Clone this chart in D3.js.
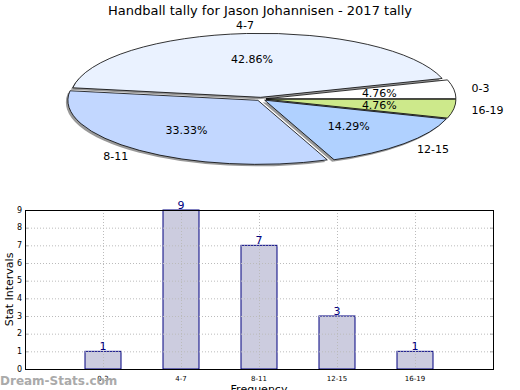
<!DOCTYPE html>
<html>
<head>
<meta charset="utf-8">
<script src="https://cdn.jsdelivr.net/npm/d3@7"></script>
<style>
  body { margin: 0; background: #fff; }
  svg { font-family: "DejaVu Sans", sans-serif; display: block; }
</style>
</head>
<body>
<div class="grafico"></div>
<script>
// data
const categories = ["0-3", "4-7", "8-11", "12-15", "16-19"];
const counts = [1, 9, 7, 3, 1];
const sliceColors = ["#ffffff", "#eaf2ff", "#c2d7ff", "#b0d1ff", "#cde98b"];
const yTicks = [0, 1, 2, 3, 4, 5, 6, 7, 8, 9];

const width = 520, height = 390;
const total = d3.sum(counts);

let svg = d3.select(".grafico")
  .append("svg")
  .attr("width", width)
  .attr("height", height);

// title
svg.append("text")
  .attr("x", 260).attr("y", 15)
  .attr("text-anchor", "middle")
  .attr("font-size", 13)
  .text("Handball tally for Jason Johannisen - 2017 tally");

// ---- pie (flattened, exploded) ----
const cx = 261, cy = 99, rx = 190, ry = 64, k = ry / rx, explode = 5;

const pie = d3.pie()
  .sort(null)
  .startAngle(Math.PI / 2)
  .endAngle(Math.PI / 2 - 2 * Math.PI);

const arcs = pie(counts);
const arc = d3.arc().innerRadius(0).outerRadius(rx);

// d3 angle -> screen direction
const dirX = a => Math.sin(a), dirY = a => -Math.cos(a);

const pieG = svg.append("g");

// shadow
pieG.selectAll(".shadow")
  .data(arcs)
  .enter().append("path")
  .attr("class", "shadow")
  .attr("d", arc)
  .attr("transform", d => {
    const m = (d.startAngle + d.endAngle) / 2;
    return "translate(" + (cx - 2 + explode * dirX(m)) + "," + (cy + 2 + explode * dirY(m) * k) + ") scale(1," + k + ")";
  })
  .attr("fill", "#999");

pieG.selectAll(".slice")
  .data(arcs)
  .enter().append("path")
  .attr("class", "slice")
  .attr("d", arc)
  .attr("transform", d => {
    const m = (d.startAngle + d.endAngle) / 2;
    return "translate(" + (cx + explode * dirX(m)) + "," + (cy + explode * dirY(m) * k) + ") scale(1," + k + ")";
  })
  .attr("fill", (d, i) => sliceColors[i])
  .attr("stroke", "#000")
  .attr("stroke-width", 0.8)
  .attr("vector-effect", "non-scaling-stroke");

// percent labels
pieG.selectAll(".pct")
  .data(arcs)
  .enter().append("text")
  .attr("class", "pct")
  .attr("x", d => { const m = (d.startAngle + d.endAngle) / 2; return cx + rx * 0.63 * dirX(m); })
  .attr("y", d => { const m = (d.startAngle + d.endAngle) / 2; return cy + ry * 0.63 * dirY(m); })
  .attr("dy", "0.35em")
  .attr("text-anchor", "middle")
  .attr("font-size", 11)
  .text(d => (d.value / total * 100).toFixed(2) + "%");

// category labels
pieG.selectAll(".cat")
  .data(arcs)
  .enter().append("text")
  .attr("class", "cat")
  .attr("x", d => { const m = (d.startAngle + d.endAngle) / 2; return cx + rx * 1.12 * dirX(m); })
  .attr("y", d => { const m = (d.startAngle + d.endAngle) / 2; return cy + ry * 1.15 * dirY(m); })
  .attr("dy", "0.35em")
  .attr("text-anchor", d => {
    const c = dirX((d.startAngle + d.endAngle) / 2);
    return c > 0.3 ? "start" : (c < -0.3 ? "end" : "middle");
  })
  .attr("font-size", 11)
  .text((d, i) => categories[i]);

// ---- bar chart ----
const plot = { left: 25, right: 493, top: 210, bottom: 369 };

const x = d3.scalePoint()
  .domain(categories)
  .range([plot.left, plot.right])
  .padding(1);

const y = d3.scaleLinear()
  .domain([0, 9])
  .range([plot.bottom, plot.top]);

const barW = 36;

svg.selectAll(".bar")
  .data(counts)
  .enter().append("rect")
  .attr("class", "bar")
  .attr("x", (d, i) => x(categories[i]) - barW / 2)
  .attr("y", d => y(d))
  .attr("width", barW)
  .attr("height", d => y(0) - y(d))
  .attr("fill", "#ccccdf")
  .attr("stroke", "#000080")
  .attr("stroke-width", 1);

// grid (drawn over bars)
const grid = svg.append("g")
  .attr("stroke", "#bbb")
  .attr("stroke-dasharray", "1,2");
grid.selectAll(".hg")
  .data(yTicks.slice(1, -1))
  .enter().append("line")
  .attr("x1", plot.left).attr("x2", plot.right)
  .attr("y1", d => y(d) + 0.5).attr("y2", d => y(d) + 0.5);
grid.selectAll(".vg")
  .data(categories)
  .enter().append("line")
  .attr("x1", d => x(d) + 0.5).attr("x2", d => x(d) + 0.5)
  .attr("y1", plot.top).attr("y2", plot.bottom);

// small inner ticks at both sides
const ticks = svg.append("g").attr("stroke", "#aaa");
ticks.selectAll(".lt")
  .data(yTicks)
  .enter().append("line")
  .attr("x1", plot.left).attr("x2", plot.left + 3)
  .attr("y1", d => y(d) + 0.5).attr("y2", d => y(d) + 0.5);
ticks.selectAll(".rt")
  .data(yTicks)
  .enter().append("line")
  .attr("x1", plot.right - 3).attr("x2", plot.right)
  .attr("y1", d => y(d) + 0.5).attr("y2", d => y(d) + 0.5);

// frame
svg.append("rect")
  .attr("x", plot.left + 0.5).attr("y", plot.top + 0.5)
  .attr("width", plot.right - plot.left)
  .attr("height", plot.bottom - plot.top)
  .attr("fill", "none")
  .attr("stroke", "#000");

// y tick labels
svg.selectAll(".ylab")
  .data(yTicks)
  .enter().append("text")
  .attr("x", plot.left - 3)
  .attr("y", d => y(d))
  .attr("dy", "0.35em")
  .attr("text-anchor", "end")
  .attr("font-size", 8)
  .text(d => d);

// x tick labels
svg.selectAll(".xlab")
  .data(categories)
  .enter().append("text")
  .attr("x", d => x(d))
  .attr("y", plot.bottom + 12)
  .attr("text-anchor", "middle")
  .attr("font-size", 7)
  .text(d => d);

// value labels
svg.selectAll(".val")
  .data(counts)
  .enter().append("text")
  .attr("x", (d, i) => x(categories[i]))
  .attr("y", d => y(d) - 1)
  .attr("text-anchor", "middle")
  .attr("font-size", 11)
  .attr("fill", "#000080")
  .text(d => d);

// axis titles
svg.append("text")
  .attr("transform", "translate(13," + ((plot.top + plot.bottom) / 2) + ") rotate(-90)")
  .attr("text-anchor", "middle")
  .attr("font-size", 11)
  .text("Stat Intervals");

svg.append("text")
  .attr("x", (plot.left + plot.right) / 2)
  .attr("y", 393)
  .attr("text-anchor", "middle")
  .attr("font-size", 11)
  .text("Frequency");

// watermark
svg.append("text")
  .attr("x", 0)
  .attr("y", 385)
  .attr("font-size", 12)
  .attr("font-weight", "bold")
  .attr("fill", "#aaa")
  .text("Dream-Stats.com");
</script>
</body>
</html>
